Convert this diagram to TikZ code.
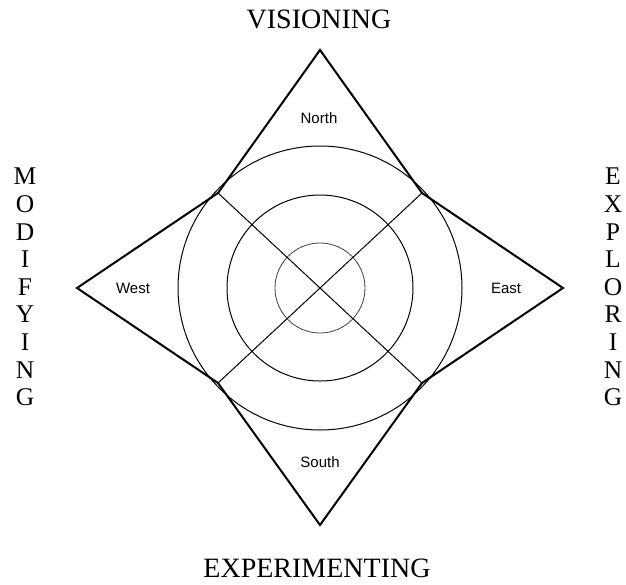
\documentclass[tikz,border=0pt]{standalone}
\usepackage{fontspec}
\setmainfont{Liberation Serif}
\setsansfont{Liberation Sans}
\usetikzlibrary{positioning}

\begin{document}
\begin{tikzpicture}[x=1pt, y=-1pt,
    star/.style={draw, line width=2pt, line join=miter},
    ring/.style={draw, line width=1pt},
    cross/.style={draw, line width=1pt},
    quarter/.style={font=\sffamily\fontsize{15}{18}\selectfont},
    heading/.style={font=\fontsize{28}{30}\selectfont, inner sep=0pt},
    column/.style={font=\fontsize{25.5}{27.6}\selectfont, align=center, inner sep=0pt}]

    \useasboundingbox (0,0) rectangle (626,584);

    % Star points
    \coordinate (C) at (320,288);
    \coordinate (N) at (320,50);
    \coordinate (E) at (563,288);
    \coordinate (S) at (320,525);
    \coordinate (W) at (77,288);
    \coordinate (NE) at (422,193);
    \coordinate (SE) at (422,383);
    \coordinate (SW) at (218,383);
    \coordinate (NW) at (218,193);

    % Circles
    \draw[ring] (C) circle (142pt);
    \draw[ring] (C) circle (93pt);
    \draw[ring, line width=0.8pt, black!75] (C) circle (45pt);

    % Diagonals
    \draw[cross] (NW) -- (SE);
    \draw[cross] (NE) -- (SW);

    % Star outline
    \draw[star] (N) -- (NE) -- (E) -- (SE) -- (S) -- (SW) -- (W) -- (NW) -- cycle;

    % Quarter labels
    \node[quarter] (north) at (319,118) {North};
    \node[quarter] (east) at (506,288) {East};
    \node[quarter] (south) at (320,462) {South};
    \node[quarter] (west) at (133,288) {West};

    % Headings
    \node[heading, anchor=base] (vis) at (319,28) {VISIONING};
    \node[heading, anchor=base] (exper) at (317,577) {EXPERIMENTING};
    \node[column] (mod) at (25,287) {M\\O\\D\\I\\F\\Y\\I\\N\\G};
    \node[column] (expl) at (613,287) {E\\X\\P\\L\\O\\R\\I\\N\\G};
\end{tikzpicture}
\end{document}
